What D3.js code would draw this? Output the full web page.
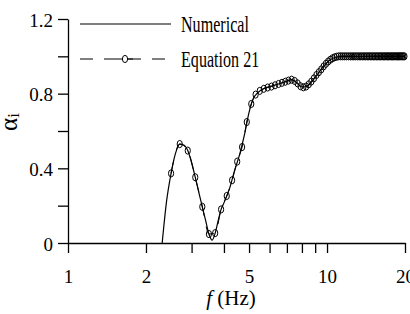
<!doctype html>
<html lang="en">
<head>
    <meta charset="UTF-8">
    <title>alpha_i vs f</title>
    <style>
        body { margin: 0; background: #fff; }
        svg text { font-family: "Liberation Serif", "Times New Roman", serif; fill: #000; }
    </style>
</head>
<body>

<div class="canvas"></div>

<script src="https://d3js.org/d3.v7.min.js"></script>
<script>
    // numerical solution (solid line)
    const numFreq = [2.31, 2.4, 2.5, 2.6, 2.7, 2.8, 2.9, 3.0, 3.1, 3.2, 3.3, 3.4, 3.5, 3.6, 3.7, 3.8, 3.9, 4.0,
        4.2, 4.4, 4.6, 4.8, 5.0, 5.2, 5.4, 5.7, 6.0, 6.5, 7.0, 7.3, 7.6, 8.0, 8.3, 8.7, 9.2, 9.7, 10.2, 10.8,
        11.5, 12.5, 14, 17, 20];
    const numAlpha = [0, 0.22, 0.373, 0.48, 0.53, 0.525, 0.495, 0.43, 0.352, 0.27, 0.194, 0.12, 0.048, 0.015,
        0.053, 0.12, 0.18, 0.215, 0.29, 0.39, 0.475, 0.58, 0.70, 0.775, 0.805, 0.828, 0.838, 0.852, 0.867,
        0.875, 0.862, 0.836, 0.837, 0.862, 0.905, 0.946, 0.978, 0.995, 1.0, 1.0, 1.0, 1.0, 1.0];

    // Equation 21 (circles, every 0.2 Hz)
    const eqFreq = [2.5, 2.7, 2.9, 3.1, 3.3, 3.5, 3.7, 3.9, 4.1, 4.3, 4.5, 4.7, 4.9, 5.1, 5.3, 5.5, 5.7, 5.9,
        6.1, 6.3, 6.5, 6.7, 6.9, 7.1, 7.3, 7.5, 7.7, 7.9, 8.1, 8.3, 8.5, 8.7, 8.9, 9.1, 9.3, 9.5, 9.7, 9.9,
        10.1, 10.3, 10.5, 10.7, 10.9, 11.1, 11.3, 11.5, 11.7, 11.9, 12.1, 12.3, 12.5, 12.7, 12.9, 13.1, 13.3,
        13.5, 13.7, 13.9, 14.1, 14.3, 14.5, 14.7, 14.9, 15.1, 15.3, 15.5, 15.7, 15.9, 16.1, 16.3, 16.5, 16.7,
        16.9, 17.1, 17.3, 17.5, 17.7, 17.9, 18.1, 18.3, 18.5, 18.7, 18.9, 19.1, 19.3, 19.5, 19.7, 19.9];
    const eqAlpha = [0.373, 0.53, 0.495, 0.352, 0.194, 0.048, 0.053, 0.18, 0.252, 0.336, 0.436, 0.514, 0.648,
        0.745, 0.795, 0.815, 0.826, 0.833, 0.838, 0.845, 0.852, 0.858, 0.864, 0.870, 0.875, 0.868, 0.855,
        0.840, 0.834, 0.838, 0.850, 0.865, 0.882, 0.900, 0.915, 0.930, 0.946, 0.960, 0.972, 0.982, 0.990,
        0.995, 0.998, 1.0, 1.0, 1.0, 1.0, 1.0, 1.0, 1.0, 1.0, 1.0, 1.0, 1.0, 1.0, 1.0, 1.0, 1.0, 1.0, 1.0,
        1.0, 1.0, 1.0, 1.0, 1.0, 1.0, 1.0, 1.0, 1.0, 1.0, 1.0, 1.0, 1.0, 1.0, 1.0, 1.0, 1.0, 1.0, 1.0, 1.0,
        1.0, 1.0, 1.0, 1.0, 1.0, 1.0, 1.0, 1.0];

    const xTicks = [1, 2, 3, 4, 5, 6, 7, 8, 9, 10, 20];
    const xLabels = [1, 2, 5, 10, 20];
    const yTicks = [0, 0.2, 0.4, 0.6, 0.8, 1.0, 1.2];
    const yLabels = [0, 0.4, 0.8, 1.2];
    const legendNames = ['Numerical', 'Equation 21'];

    const svgWidth = 410;
    const svgHeight = 314;
    const margin = { top: 19, right: 5, bottom: 71, left: 68 };
    const graphWidth = svgWidth - margin.left - margin.right;
    const graphHeight = svgHeight - margin.top - margin.bottom;

    const svg = d3.select('.canvas').append('svg')
        .attr('width', svgWidth)
        .attr('height', svgHeight)
    ;
    const graph = svg.append('g')
        .attr('transform', `translate(${margin.left}, ${margin.top})`)
    ;

    const x = d3.scaleLog().domain([1, 20]).range([0, graphWidth]);
    const y = d3.scaleLinear().domain([0, 1.2]).range([graphHeight, 0]);

    const xAxis = d3.axisBottom(x)
        .tickValues(xTicks)
        .tickSize(10)
        .tickSizeOuter(0)
        .tickFormat(v => xLabels.includes(v) ? v : '')
    ;
    const yAxis = d3.axisLeft(y)
        .tickValues(yTicks)
        .tickSize(10)
        .tickSizeOuter(0)
        .tickFormat(v => yLabels.includes(v) ? (v === 0 ? '0' : d3.format('.1f')(v)) : '')
    ;

    const xAxisGroup = graph.append('g')
        .attr('transform', `translate(0, ${graphHeight})`)
        .call(xAxis)
    ;
    const yAxisGroup = graph.append('g').call(yAxis);

    [xAxisGroup, yAxisGroup].forEach(g => {
        g.attr('font-family', null);
        g.select('.domain').attr('stroke', '#000').attr('stroke-width', 1.3);
        g.selectAll('.tick line').attr('stroke', '#000').attr('stroke-width', 1.3);
        g.selectAll('.tick text')
            .style('font-family', '"Liberation Serif", serif')
            .attr('font-size', 19)
            .attr('fill', '#000')
        ;
    });
    xAxisGroup.selectAll('.tick text').attr('y', 40).attr('dy', 0);
    yAxisGroup.selectAll('.tick text').attr('x', -15).attr('dy', 7);

    // axis titles
    svg.append('text')
        .attr('x', 231)
        .attr('y', 305)
        .attr('text-anchor', 'middle')
        .attr('font-size', 21)
        .html('<tspan font-style="italic">f</tspan> (Hz)')
    ;
    svg.append('text')
        .attr('transform', 'translate(17, 122) rotate(-90)')
        .attr('text-anchor', 'middle')
        .attr('font-size', 25)
        .html('α<tspan font-size="17" dy="2">i</tspan>')
    ;

    const line = d3.line()
        .x(d => x(d[0]))
        .y(d => y(d[1]))
        .curve(d3.curveMonotoneX)
    ;

    const numData = numFreq.map((f, i) => [f, numAlpha[i]]);
    const eqData = eqFreq.map((f, i) => [f, eqAlpha[i]]);

    graph.append('path')
        .datum(eqData)
        .attr('d', line)
        .attr('fill', 'none')
        .attr('stroke', '#000')
        .attr('stroke-width', 1)
        .attr('stroke-dasharray', '13,11')
    ;
    graph.append('path')
        .datum(numData)
        .attr('d', line)
        .attr('fill', 'none')
        .attr('stroke', '#000')
        .attr('stroke-width', 1.2)
    ;
    graph.selectAll('ellipse.eq')
        .data(eqData)
        .enter()
        .append('ellipse')
        .attr('class', 'eq')
        .attr('cx', d => x(d[0]))
        .attr('cy', d => y(d[1]))
        .attr('rx', 2.6)
        .attr('ry', 3.6)
        .attr('fill', 'none')
        .attr('stroke', '#000')
        .attr('stroke-width', 1)
    ;

    // legend
    const legend = svg.append('g');
    legend.append('line')
        .attr('x1', 80).attr('x2', 171)
        .attr('y1', 24).attr('y2', 24)
        .attr('stroke', '#000').attr('stroke-width', 1.2)
    ;
    legend.append('line')
        .attr('x1', 80).attr('x2', 167)
        .attr('y1', 59).attr('y2', 59)
        .attr('stroke', '#000').attr('stroke-width', 1)
        .attr('stroke-dasharray', '13,11')
    ;
    legend.append('line')
        .attr('x1', 117).attr('x2', 133)
        .attr('y1', 59).attr('y2', 59)
        .attr('stroke', '#000').attr('stroke-width', 1)
    ;
    legend.append('ellipse')
        .attr('cx', 125).attr('cy', 59).attr('rx', 2.6).attr('ry', 3.6)
        .attr('fill', '#fff').attr('stroke', '#000').attr('stroke-width', 1)
    ;
    legend.selectAll('text')
        .data(legendNames)
        .enter()
        .append('text')
        .attr('transform', (d, i) => `translate(181, ${32 + i * 35}) scale(0.7, 1)`)
        .attr('font-size', 23)
        .text(d => d)
    ;
</script>
</body>
</html>
